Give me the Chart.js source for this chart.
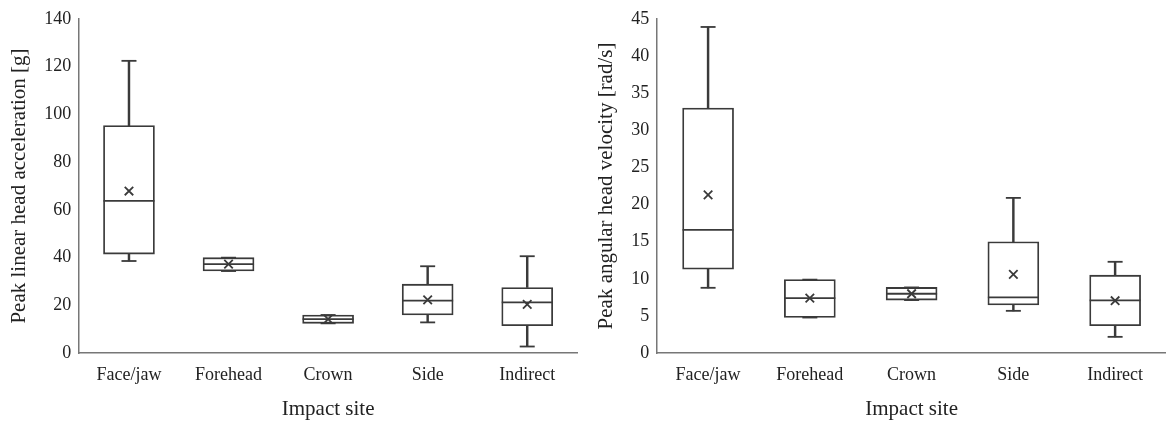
<!DOCTYPE html>
<html>
<head>
<meta charset="utf-8">
<script src="https://cdn.jsdelivr.net/npm/chart.js@4/dist/chart.umd.min.js"></script>
<style>
html,body{margin:0;padding:0;background:#fff;}
.wrap{display:flex;width:1166px;height:422px;}
.box{position:relative;width:583px;height:422px;}
</style>
</head>
<body>
<div class="wrap">
<div class="box"><canvas id="c1"></canvas></div>
<div class="box"><canvas id="c2"></canvas></div>
</div>
<script>
const sites = ["Face/jaw","Forehead","Crown","Side","Indirect"];

/* linear acceleration [g] */
const linMin    = [38.6, 34.4, 12.5, 12.9, 2.8];
const linQ1     = [41.5, 34.4, 12.5, 16.0, 11.5];
const linMedian = [63.8, 37.3, 14.3, 22.0, 21.3];
const linQ3     = [95.3, 40.0, 16.0, 28.9, 27.5];
const linMax    = [122.4, 40.0, 16.0, 36.4, 40.6];
const linMean   = [67.9, 37.3, 14.3, 22.3, 20.4];

/* angular velocity [rad/s] */
const angMin    = [8.8, 4.8, 7.15, 5.7, 2.2];
const angQ1     = [11.3, 4.8, 7.15, 6.5, 3.7];
const angMedian = [16.6, 7.4, 8.0, 7.5, 7.1];
const angQ3     = [33.0, 9.9, 8.85, 15.0, 10.5];
const angMax    = [43.9, 9.9, 8.85, 20.9, 12.3];
const angMean   = [21.3, 7.4, 8.0, 10.6, 7.06];

const ink = "#3a3a3a";
const font = "'Liberation Serif','Times New Roman',serif";

function boxChart(id, mn, q1, med, q3, mx, mean, yMax, yStep, yTitle, padL, padR){
const pair = (a,b)=>a.map((v,i)=>[v,b[i]]);
const pts = (r, style, arr)=>({
type:"line", data:arr, showLine:false, order:0, clip:false,
pointStyle:style, pointRadius:r, pointHoverRadius:r,
pointBorderColor:ink, pointBackgroundColor:ink, pointBorderWidth:1.8
});
new Chart(document.getElementById(id),{
type:"bar",
data:{
labels:sites,
datasets:[
{data:pair(mn,q1), backgroundColor:ink, barThickness:1.8, grouped:false, borderWidth:0, order:3},
{data:pair(q3,mx), backgroundColor:ink, barThickness:1.8, grouped:false, borderWidth:0, order:3},
{data:pair(q1,q3), backgroundColor:"#fff", borderColor:ink, borderWidth:1.8,
 borderSkipped:false, barThickness:51, grouped:false, order:2},
pts(25.5,"line",med),
pts(7.5,"line",mn),
pts(7.5,"line",mx),
pts(6,"crossRot",mean)
]
},
options:{
responsive:true,
maintainAspectRatio:false,
animation:false,
layout:{autoPadding:false,padding:{top:2,right:padR,left:padL,bottom:0}},
plugins:{legend:{display:false},tooltip:{enabled:false}},
scales:{
x:{
grid:{display:false,drawTicks:false},
border:{color:"#777",width:1.5},
ticks:{color:"#222",font:{family:font,size:18},padding:11},
title:{display:true,text:"Impact site",color:"#222",font:{family:font,size:21},padding:{top:0,bottom:0}}
},
y:{
min:0,max:yMax,
grid:{display:false,drawTicks:false},
border:{color:"#777",width:1.5},
ticks:{stepSize:yStep,color:"#222",font:{family:font,size:18},padding:8},
title:{display:true,text:yTitle,color:"#222",font:{family:font,size:21},padding:{bottom:4}}
}
}
}
});
}

boxChart("c1",linMin,linQ1,linMedian,linQ3,linMax,linMean,140,20,"Peak linear head acceleration [g]",3,6);
boxChart("c2",angMin,angQ1,angMedian,angQ3,angMax,angMean,45,5,"Peak angular head velocity [rad/s]",7,0);
</script>
</body>
</html>
